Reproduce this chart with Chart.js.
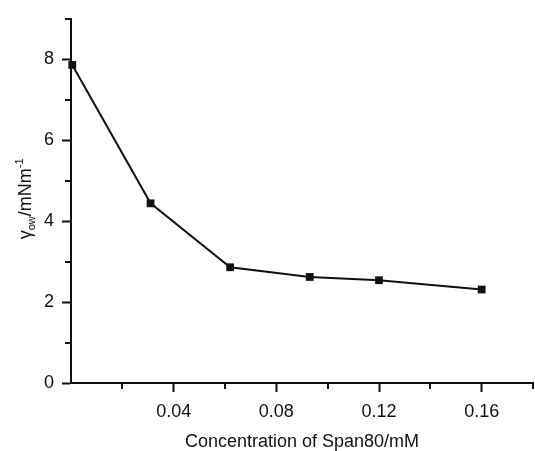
<!DOCTYPE html>
<html>
<head>
<meta charset="utf-8">
<script src="https://cdn.jsdelivr.net/npm/chart.js@4/dist/chart.umd.min.js"></script>
<style>
html,body{margin:0;padding:0;background:#fff;}
#wrap{width:535px;height:451px;position:relative;}
</style>
</head>
<body>
<div id="wrap"><canvas id="c" width="535" height="451"></canvas></div>
<script>
// Data
const concentration = [0.0005, 0.031, 0.062, 0.093, 0.12, 0.16];   // mM
const tension = [7.86, 4.44, 2.86, 2.62, 2.54, 2.31];               // mN m^-1
const xMajorTicks = [0.04, 0.08, 0.12, 0.16];
const xMinorTicks = [0.02, 0.06, 0.10, 0.14, 0.18];
const yMajorTicks = [0, 2, 4, 6, 8];
const yMinorTicks = [1, 3, 5, 7, 9];
const xTitle = 'Concentration of Span80/mM';

const FONT = '"Liberation Sans", Arial, sans-serif';
const points = concentration.map((c, i) => ({x: c, y: tension[i]}));

const extras = {
  id: 'extras',
  afterDraw(chart) {
    const ctx = chart.ctx;
    const xs = chart.scales.x, ys = chart.scales.y;
    const area = chart.chartArea;
    ctx.save();
    ctx.strokeStyle = '#111';
    ctx.lineWidth = 2;
    // minor ticks
    xMinorTicks.forEach(v => {
      const px = Math.round(xs.getPixelForValue(v));
      ctx.beginPath();
      ctx.moveTo(px, area.bottom);
      ctx.lineTo(px, area.bottom + 6);
      ctx.stroke();
    });
    yMinorTicks.forEach(v => {
      const py = Math.round(ys.getPixelForValue(v));
      ctx.beginPath();
      ctx.moveTo(area.left, py);
      ctx.lineTo(area.left - 6, py);
      ctx.stroke();
    });
    // y axis title with subscript / superscript
    ctx.fillStyle = '#111';
    ctx.textBaseline = 'alphabetic';
    const parts = [
      {t: 'γ', size: 18, dy: 0},
      {t: 'ow', size: 11, dy: 4},
      {t: '/mNm', size: 18, dy: 0},
      {t: '-1', size: 11, dy: -8}
    ];
    let total = 0;
    parts.forEach(p => { ctx.font = p.size + 'px ' + FONT; p.w = ctx.measureText(p.t).width; total += p.w; });
    const cy = (area.top + area.bottom) / 2 - 2;
    ctx.translate(31, cy);
    ctx.rotate(-Math.PI / 2);
    let x = -total / 2;
    parts.forEach(p => {
      ctx.font = p.size + 'px ' + FONT;
      ctx.fillText(p.t, x, p.dy);
      x += p.w;
    });
    ctx.restore();
  }
};

new Chart(document.getElementById('c'), {
  type: 'scatter',
  data: {
    datasets: [{
      data: points,
      showLine: true,
      borderColor: '#111',
      borderWidth: 2,
      backgroundColor: '#111',
      pointStyle: 'rect',
      pointRadius: 5.5,
      pointBorderWidth: 0,
      pointBackgroundColor: '#111',
      tension: 0,
      clip: false
    }]
  },
  options: {
    responsive: false,
    animation: false,
    events: [],
    layout: {autoPadding: false, padding: {top: 16, right: 2, left: 0, bottom: 0}},
    plugins: {legend: {display: false}, tooltip: {enabled: false}},
    scales: {
      x: {
        type: 'linear',
        min: 0, max: 0.18,
        afterFit: s => { s.height = 68; },
        afterBuildTicks: s => { s.ticks = xMajorTicks.map(v => ({value: v})); },
        border: {color: '#111', width: 2},
        grid: {drawOnChartArea: false, drawTicks: true, tickLength: 9, tickWidth: 2, tickColor: '#111'},
        ticks: {
          autoSkip: false, maxRotation: 0, padding: 9, color: '#111',
          font: {family: FONT, size: 18},
          callback: v => v.toFixed(2)
        },
        title: {display: true, text: xTitle, color: '#111', font: {family: FONT, size: 18}, padding: {top: 0, bottom: -2}}
      },
      y: {
        type: 'linear',
        min: 0, max: 9,
        afterFit: s => { s.width = 71; },
        afterBuildTicks: s => { s.ticks = yMajorTicks.map(v => ({value: v})); },
        border: {color: '#111', width: 2},
        grid: {drawOnChartArea: false, drawTicks: true, tickLength: 9, tickWidth: 2, tickColor: '#111'},
        ticks: {
          autoSkip: false, padding: 8, color: '#111',
          font: {family: FONT, size: 18},
          callback: v => String(v)
        }
      }
    }
  },
  plugins: [extras]
});
</script>
</body>
</html>
